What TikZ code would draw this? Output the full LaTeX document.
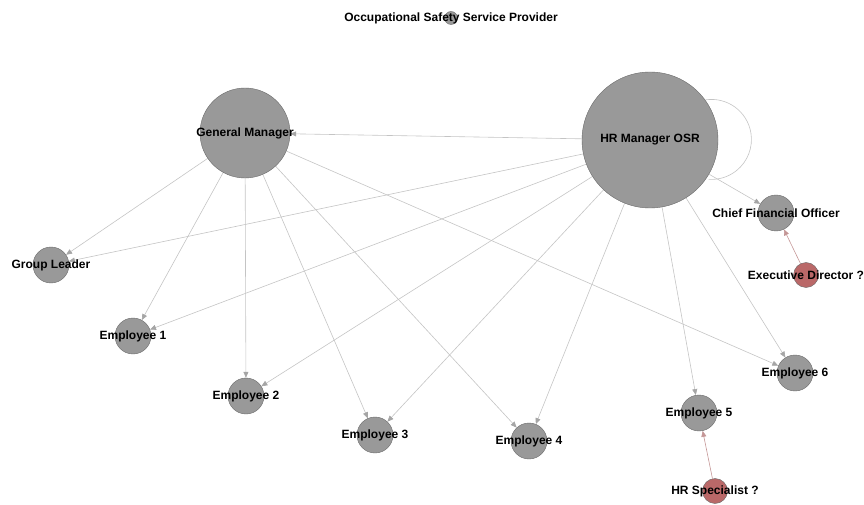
\documentclass[tikz,border=0pt]{standalone}
\usepackage{fontspec}
\setmainfont{Liberation Sans}
\usetikzlibrary{arrows.meta,backgrounds}

\definecolor{nodegray}{RGB}{153,153,153}
\definecolor{rimgray}{RGB}{105,105,105}
\definecolor{nodered}{RGB}{186,104,104}
\definecolor{linkgray}{RGB}{196,196,196}
\definecolor{tipgray}{RGB}{165,165,165}
\definecolor{linkred}{RGB}{196,150,150}

\begin{document}
\begin{tikzpicture}[x=1pt,y=1pt,
    person/.style={circle,draw=rimgray,line width=0.4pt,fill=nodegray,inner sep=0pt},
    unknown/.style={person,fill=nodered},
    every label/.style={font=\fontsize{12}{14}\selectfont\bfseries,inner sep=0pt},
    link/.style={draw=linkgray,line width=0.6pt,-{Triangle[length=6pt,width=5pt,color=tipgray]}},
    redlink/.style={link,draw=linkred,-{Triangle[length=6pt,width=5pt,color=linkred]}}]
    \useasboundingbox (0,0) rectangle (864,504);

    % people
    \node[person,minimum size=13pt,label=center:{Occupational Safety Service Provider}] (ossp) at (451,486) {};
    \node[person,minimum size=90pt,label=center:{General Manager}] (gm) at (245,371) {};
    \node[person,minimum size=136pt,label=center:{HR Manager OSR}] (hr) at (650,364) {};
    \node[person,minimum size=36pt,label=center:{Chief Financial Officer}] (cfo) at (776,291) {};
    \node[unknown,minimum size=25pt,label=center:{Executive Director ?}] (exd) at (806,229) {};
    \node[person,minimum size=36pt,label=center:{Group Leader}] (gl) at (51,239) {};
    \node[person,minimum size=36pt,label=center:{Employee 1}] (e1) at (133,168) {};
    \node[person,minimum size=36pt,label=center:{Employee 2}] (e2) at (246,108) {};
    \node[person,minimum size=36pt,label=center:{Employee 3}] (e3) at (375,69) {};
    \node[person,minimum size=36pt,label=center:{Employee 4}] (e4) at (529,63) {};
    \node[person,minimum size=36pt,label=center:{Employee 5}] (e5) at (699,91) {};
    \node[person,minimum size=36pt,label=center:{Employee 6}] (e6) at (795,131) {};
    \node[unknown,minimum size=25pt,label=center:{HR Specialist ?}] (hrs) at (715,13) {};

    % reporting lines
    \begin{scope}[on background layer]
        \foreach \to in {gl,e1,e2,e3,e4,e6}
            \draw[link] (gm) -- (\to);
        \foreach \to in {gm,gl,e1,e2,e3,e4,e5,e6,cfo}
            \draw[link] (hr) -- (\to);
        \draw[link,-] (hr.36) arc[start angle=99,end angle=-94,radius=40];
        \draw[redlink] (exd) -- (cfo);
        \draw[redlink] (hrs) -- (e5);
    \end{scope}
\end{tikzpicture}
\end{document}
